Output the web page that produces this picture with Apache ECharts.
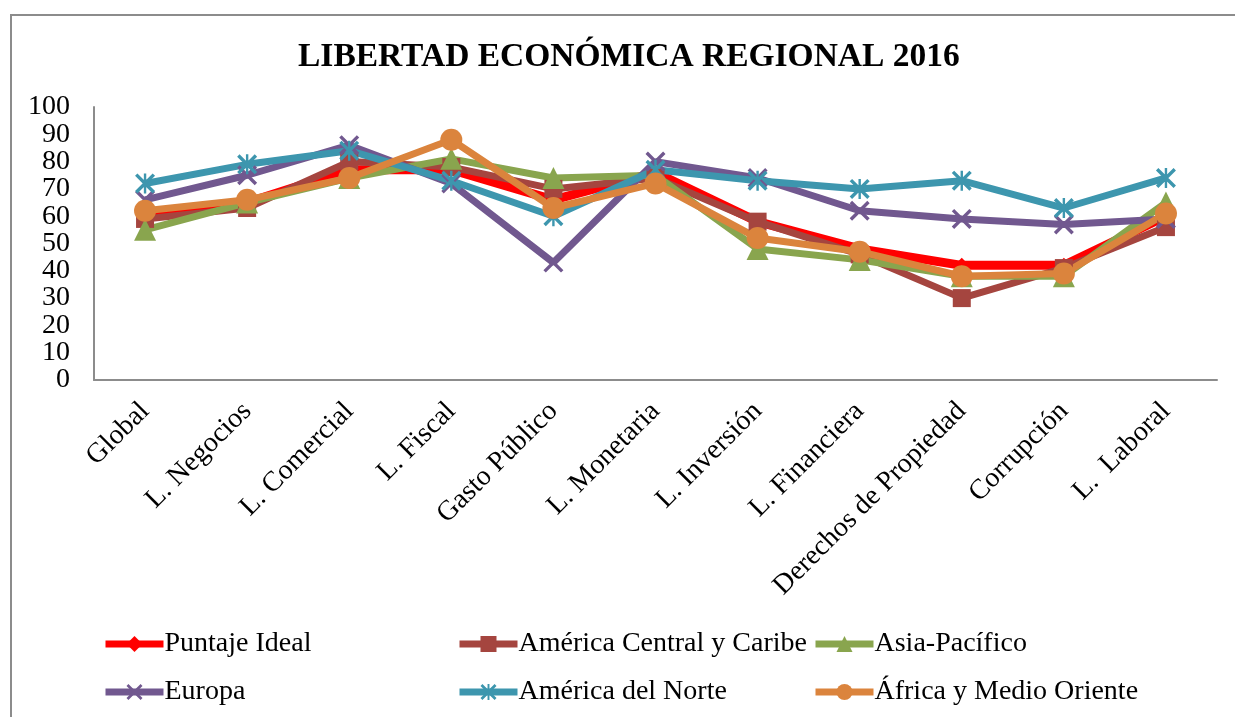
<!DOCTYPE html>
<html>
<head>
<meta charset="utf-8">
<title>Libertad Económica Regional 2016</title>
<script src="https://cdn.jsdelivr.net/npm/echarts@6/dist/echarts.min.js"></script>
<style>
  html, body { margin: 0; padding: 0; background: #ffffff; }
  #chart { width: 1235px; height: 717px; }
</style>
</head>
<body>
<div id="chart"></div>
<script>
// Categories of the economic-freedom index
const categories = ['Global', 'L. Negocios', 'L. Comercial', 'L. Fiscal', 'Gasto Público',
  'L. Monetaria', 'L. Inversión', 'L. Financiera', 'Derechos de Propiedad', 'Corrupción', 'L.  Laboral'];

// Scores per region
const puntajeIdeal    = [60, 65, 77, 77, 66, 76, 58, 48, 42, 42, 60];
const americaCentral  = [59, 63, 80, 78, 70, 74, 58, 46, 30, 41, 56];
const asiaPacifico    = [55, 65, 74, 81, 74, 75, 48, 44, 38, 38, 65];
const europa          = [66, 75, 86, 72, 43, 80, 74, 62, 59, 57, 59];
const americaNorte    = [72, 79, 84, 73, 60, 77, 73, 70, 73, 63, 74];
const africaMedio     = [62, 66, 74, 88, 63, 72, 52, 47, 38, 39, 61];

const yTicks = { min: 0, max: 100, interval: 10 };

const FONT = "'Liberation Serif', 'Times New Roman', serif";

// Marker shapes: an "x" and an asterisk built from filled bars
const X_PATH = 'path://M0,12 L12,0 L100,88 L88,100 Z M88,0 L100,12 L12,100 L0,88 Z';
const STAR_PATH = 'path://M0,12 L12,0 L100,88 L88,100 Z M88,0 L100,12 L12,100 L0,88 Z M44,0 L56,0 L56,100 L44,100 Z';

function lineSeries(name, data, color, symbol, symbolSize, width) {
  return {
    name: name,
    type: 'line',
    data: data,
    yAxisIndex: 0,
    symbol: symbol,
    symbolSize: symbolSize,
    showAllSymbol: true,
    lineStyle: { color: color, width: width },
    itemStyle: { color: color, borderWidth: 0 },
    emphasis: { disabled: true }
  };
}

const series = [
  lineSeries('Puntaje Ideal', puntajeIdeal, '#FF0000', 'diamond', 15, 9),
  lineSeries('América Central y Caribe', americaCentral, '#A5453F', 'rect', 18, 7),
  lineSeries('Asia-Pacífico', asiaPacifico, '#89A54E', 'triangle', 22, 7),
  lineSeries('Europa', europa, '#71588F', X_PATH, 20, 7),
  lineSeries('América del Norte', americaNorte, '#3D96AE', STAR_PATH, 20, 7),
  lineSeries('África y Medio Oriente', africaMedio, '#DB843D', 'circle', 22, 7)
];

function legendColumn(left, names) {
  return {
    orient: 'vertical',
    left: left,
    top: 624,
    itemWidth: 58,
    itemHeight: 20,
    itemGap: 18,
    selectedMode: false,
    data: names,
    lineStyle: { width: 7 },
    textStyle: { fontFamily: FONT, fontSize: 28, color: '#000', lineHeight: 30, padding: [0, 0, 0, -4] }
  };
}

const yLabelStyle = { margin: 24, fontFamily: FONT, fontSize: 28, color: '#000', hideOverlap: false };

const chart = echarts.init(document.getElementById('chart'), null, { renderer: 'canvas' });
chart.setOption({
  animation: false,
  backgroundColor: '#ffffff',
  title: {
    text: 'LIBERTAD ECONÓMICA REGIONAL 2016',
    left: 298,
    top: 40,
    padding: 0,
    textStyle: { fontFamily: FONT, fontSize: 33.5, fontWeight: 'bold', color: '#000' }
  },
  graphic: [{
    type: 'rect',
    shape: { x: 11, y: 15, width: 1400, height: 900 },
    style: { fill: 'none', stroke: '#8c8c8c', lineWidth: 2 },
    silent: true,
    z: -1
  }],
  legend: [
    legendColumn(97, ['Puntaje Ideal', 'Europa']),
    legendColumn(451, ['América Central y Caribe', 'América del Norte']),
    legendColumn(807, ['Asia-Pacífico', 'África y Medio Oriente'])
  ],
  grid: { left: 94, right: 18, top: 107, bottom: 337, containLabel: false },
  xAxis: {
    type: 'category',
    data: categories,
    boundaryGap: true,
    axisLine: { lineStyle: { color: '#8c8c8c', width: 2 } },
    axisTick: { show: false },
    axisLabel: {
      interval: 0,
      rotate: 45,
      margin: 27,
      fontFamily: FONT,
      fontSize: 28,
      color: '#000'
    },
    splitLine: { show: false }
  },
  yAxis: [
    {
      // main value axis: line plus the inner tick labels 10…90
      type: 'value',
      position: 'left',
      min: yTicks.min,
      max: yTicks.max,
      interval: yTicks.interval,
      axisLine: { show: true, lineStyle: { color: '#8c8c8c', width: 2 } },
      axisTick: { show: false },
      splitLine: { show: false },
      axisLabel: Object.assign({ showMinLabel: false, showMaxLabel: false }, yLabelStyle)
    },
    {
      // same scale, only carries the end labels 0 and 100
      type: 'value',
      position: 'left',
      offset: 0,
      min: yTicks.min,
      max: yTicks.max,
      interval: yTicks.max - yTicks.min,
      axisLine: { show: false },
      axisTick: { show: false },
      splitLine: { show: false },
      axisLabel: Object.assign({ showMinLabel: true, showMaxLabel: true }, yLabelStyle)
    }
  ],
  series: series
});
</script>
</body>
</html>
